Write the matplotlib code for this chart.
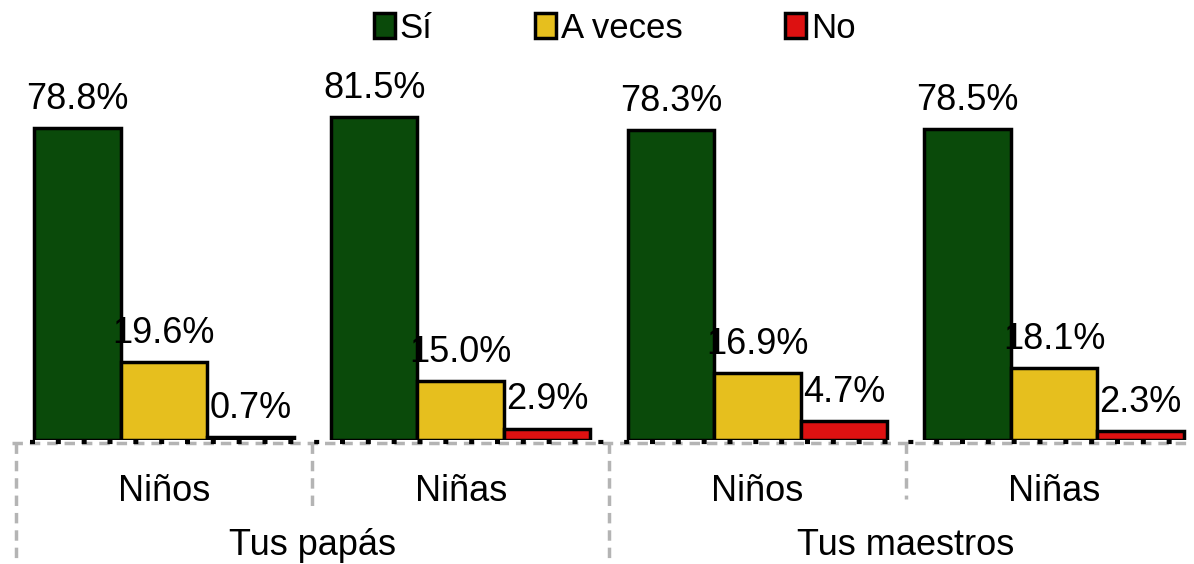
import numpy as np
import matplotlib.pyplot as plt
from matplotlib.lines import Line2D

plt.rcParams['font.family'] = ['Liberation Sans', 'DejaVu Sans']

groups = ['Niños', 'Niñas', 'Niños', 'Niñas']
parents = ['Tus papás', 'Tus maestros']
series = ['Sí', 'A veces', 'No']
si = [78.8, 81.5, 78.3, 78.5]
aveces = [19.6, 15.0, 16.9, 18.1]
no = [0.7, 2.9, 4.7, 2.3]
colors = ['#0a4a0a', '#e6bf1e', '#dd1111']

fig = plt.figure(figsize=(11.94, 5.64), dpi=100)
ax = fig.add_axes([12 / 1194, 124 / 564, 1178 / 1194, 396 / 564])
ax.set_xlim(-0.512, 3.458)
ax.set_ylim(0, 100)
ax.axis('off')

x = np.arange(len(groups))
w = 0.2916
for i, (vals, c, lab) in enumerate(zip([si, aveces, no], colors, series)):
    pos = x + (i - 1) * w
    ax.bar(pos, vals, w, color=c, edgecolor='black', linewidth=2.5, label=lab)
    for p, v in zip(pos, vals):
        ax.text(p, v + 2.8, f'{v:.1f}%', ha='center', va='bottom', fontsize=26)

# baseline: gray dashed line with black dots
ax.plot([-0.512, 3.458], [-0.8, -0.8], color='#b4b4b4', lw=2.5, ls=(0, (3, 2)), clip_on=False)
ax.plot([-0.45, 3.4], [-0.5, -0.5], color='black', lw=3, ls=(0, (1.2, 5)), clip_on=False)

# dashed separators below the axis
for xv, ybot in [(-0.5, -35), (0.5, -17), (1.5, -35), (2.5, -15)]:
    ax.add_line(Line2D([xv, xv], [-0.8, ybot], color='#b4b4b4', lw=2.5, ls=(0, (3, 2)), clip_on=False))

for xi, g in zip(x, groups):
    ax.text(xi, -13, g, ha='center', va='center', fontsize=26)
for xi, p in zip([0.5, 2.5], parents):
    ax.text(xi, -26.6, p, ha='center', va='center', fontsize=26)

fig.legend(ncol=3, loc='center', bbox_to_anchor=(0.515, 0.95), frameon=False,
           fontsize=25, handlelength=0.6, handleheight=0.7, handletextpad=0.15,
           columnspacing=2.95)

fig.savefig('out.png', dpi=100)
